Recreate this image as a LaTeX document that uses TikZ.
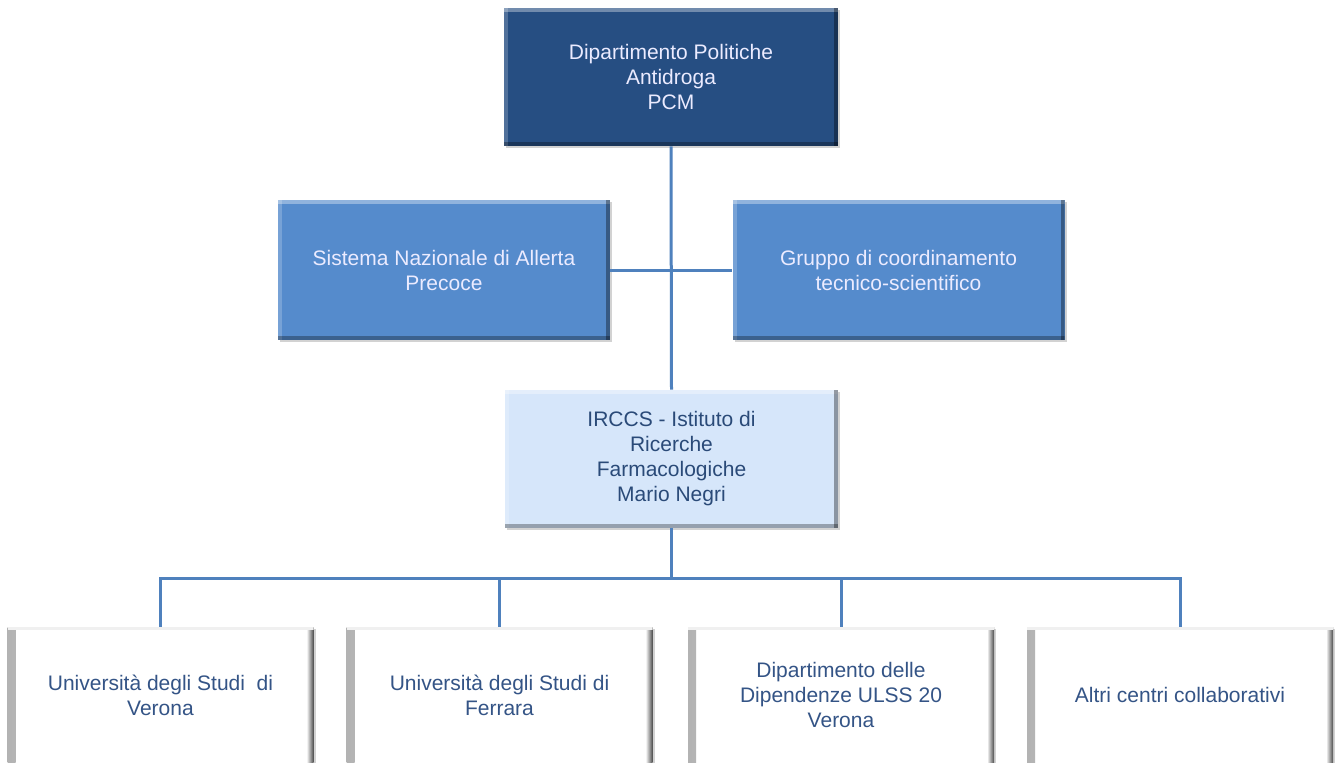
\documentclass[tikz,border=0pt]{standalone}
\usepackage{fontspec}
\setmainfont{Liberation Sans}
\usetikzlibrary{shadows}
\definecolor{topblue}{RGB}{38,78,130}
\definecolor{midblue}{RGB}{85,139,204}
\definecolor{lightblue}{RGB}{214,230,250}
\definecolor{linkblue}{RGB}{79,129,189}
\definecolor{darktext}{RGB}{42,74,120}
\definecolor{boxtext}{RGB}{52,84,134}
\tikzset{
  bevel/.style={path picture={
    \fill[white,opacity=0.35] (path picture bounding box.north west) rectangle ([yshift=-2pt]path picture bounding box.north east);
    \fill[white,opacity=0.2] (path picture bounding box.north west) rectangle ([xshift=2pt]path picture bounding box.south west);
    \fill[black,opacity=0.35] ([xshift=-2pt]path picture bounding box.north east) rectangle (path picture bounding box.south east);
    \fill[black,opacity=0.3] (path picture bounding box.south west) rectangle ([yshift=2pt]path picture bounding box.south east);
  }},
  whitebevel/.style={path picture={
    \shade[left color=black!30, right color=white] (path picture bounding box.south west) rectangle ([xshift=4pt]path picture bounding box.north west);
    \shade[left color=white, right color=black!70] ([xshift=-3.5pt]path picture bounding box.south east) rectangle (path picture bounding box.north east);
    \fill[black!6] (path picture bounding box.north west) rectangle ([yshift=-1.5pt]path picture bounding box.north east);
  }},
  orgbox/.style={rectangle, inner sep=2pt, align=center, font=\fontsize{10.5}{12.5}\selectfont,
    drop shadow={shadow xshift=1.2pt, shadow yshift=-1.2pt, opacity=0.35}},
  darkbox/.style={orgbox, fill=topblue, text=white!92!blue, bevel, minimum width=167pt, minimum height=69pt},
  midbox/.style={orgbox, fill=midblue, text=white!92!blue, bevel, minimum width=166pt, minimum height=70pt},
  lightbox/.style={orgbox, fill=lightblue, text=darktext, bevel, minimum width=166.5pt, minimum height=69pt},
  leafbox/.style={orgbox, fill=white, text=boxtext, whitebevel, minimum width=153pt, minimum height=68pt},
  link/.style={draw=linkblue, line width=1.5pt}
}
\begin{document}
\begin{tikzpicture}[x=0.5pt,y=-0.5pt]
\useasboundingbox[fill=white] (0,0) rectangle (1340,762);
\node[darkbox] (dpa) at (671,77) {Dipartimento Politiche\\Antidroga\\PCM};
\node[midbox] (snap) at (444,270) {Sistema Nazionale di Allerta\\Precoce};
\node[midbox] (gruppo) at (898.5,270) {Gruppo di coordinamento\\tecnico-scientifico};
\node[lightbox] (irccs) at (671.5,459) {IRCCS - Istituto di\\Ricerche\\Farmacologiche\\Mario Negri};
\node[leafbox] (univr) at (160.5,695) {Università degli Studi\ \ di\\Verona};
\node[leafbox] (unife) at (499.5,695) {Università degli Studi di\\Ferrara};
\node[leafbox] (ulss) at (841,695) {Dipartimento delle\\Dipendenze ULSS 20\\Verona};
\node[leafbox] (altri) at (1180,695) {Altri centri collaborativi};
\coordinate (bus) at (672,578);
\draw[link] (dpa.south) -- (irccs.north);
\draw[link] (snap.east) -- (gruppo.west);
\draw[link] (irccs.south) -- (irccs.south |- bus);
\draw[link] (univr.north) -- (univr.north |- bus) -- (altri.north |- bus) -- (altri.north);
\draw[link] (unife.north) -- (unife.north |- bus);
\draw[link] (ulss.north) -- (ulss.north |- bus);
\end{tikzpicture}
\end{document}
